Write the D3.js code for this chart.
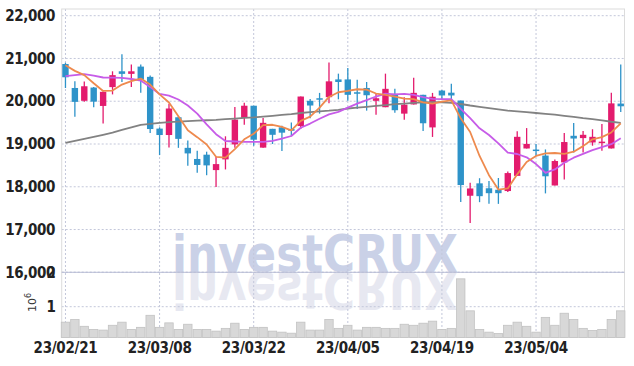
<!DOCTYPE html>
<html lang="en">
  <head>
    <meta charset="UTF-8" />
    <title>Candlestick chart</title>
    <style>
      body {
        margin: 0;
        background: #fff;
      }
      svg {
        display: block;
      }
      .lbl {
        font-family: "Liberation Sans Narrow", "DejaVu Sans Condensed", sans-serif;
        font-weight: bold;
        fill: #222;
      }
    </style>
  </head>
  <body>
    <svg width="634" height="366"></svg>
    <script src="https://d3js.org/d3.v7.min.js"></script>
    <script>
      const dates = [
        "23/02/21", "23/02/22", "23/02/23", "23/02/24", "23/02/27", "23/02/28",
        "23/03/02", "23/03/03", "23/03/06", "23/03/07", "23/03/08", "23/03/09",
        "23/03/10", "23/03/13", "23/03/14", "23/03/15", "23/03/16", "23/03/17",
        "23/03/20", "23/03/21", "23/03/22", "23/03/23", "23/03/24", "23/03/27",
        "23/03/28", "23/03/29", "23/03/30", "23/03/31", "23/04/03", "23/04/04",
        "23/04/05", "23/04/06", "23/04/07", "23/04/10", "23/04/11", "23/04/12",
        "23/04/13", "23/04/14", "23/04/17", "23/04/18", "23/04/19", "23/04/20",
        "23/04/21", "23/04/24", "23/04/25", "23/04/26", "23/04/27", "23/04/28",
        "23/05/02", "23/05/03", "23/05/04", "23/05/08", "23/05/09", "23/05/10",
        "23/05/11", "23/05/12", "23/05/15", "23/05/16", "23/05/17", "23/05/18",
      ];

      const open = [
        20870, 20310, 20010, 20320, 19890, 20330, 20700, 20640, 20810, 20570,
        19360, 19210, 19625, 18910, 18650, 18750, 18390, 18640, 18990, 19610,
        19895, 18915, 19355, 19390, 19350, 19420, 20010, 20070, 20095, 20510,
        20510, 20210, 20310, 20010, 19860, 20172, 19710, 19925, 20150, 19388,
        20250, 20200, 20016, 17790, 18080, 17965, 17930, 17900, 18255, 18895,
        18870, 18730, 18030, 18570, 19192, 19138, 19036, 19045, 18896, 19945,
      ];
      const high = [
        20900, 20470, 20460, 20330, 20230, 20700, 21100, 20860, 20860, 20600,
        19390, 19940, 19650, 19080, 18840, 18820, 18700, 19180, 19865, 19965,
        19895, 19610, 19355, 19425, 19500, 20110, 20055, 20195, 20905, 20645,
        20775, 20505, 20450, 20170, 20645, 20290, 20095, 20550, 20150, 20195,
        20260, 20410, 20016, 18095, 18200, 18135, 18205, 18355, 19300, 19372,
        19000, 18873, 18640, 19255, 19490, 19305, 19345, 19466, 20197, 20857,
      ];
      const low = [
        20310, 19640, 19985, 19860, 19480, 20160, 20450, 20330, 20200, 19260,
        18740, 18920, 18910, 18490, 18330, 18270, 17995, 18405, 18910, 19450,
        18960, 18915, 19000, 18835, 19180, 19350, 19600, 19710, 19950, 20045,
        20010, 19820, 19780, 19685, 19860, 19730, 19565, 19925, 19306, 19165,
        20050, 20050, 17645, 17155, 17640, 17600, 17600, 17880, 18255, 18895,
        18720, 17845, 18030, 18170, 18800, 18800, 18960, 18840, 18896, 19750,
      ];
      const close = [
        20560, 19985, 20350, 19990, 20220, 20610, 20640, 20700, 20500, 19350,
        19210, 19830, 19120, 18780, 18510, 18500, 18530, 18910, 19570, 19895,
        19100, 19495, 19215, 19265, 19310, 20110, 19900, 20045, 20465, 20450,
        20150, 20185, 20140, 20070, 20290, 19790, 19920, 20196, 19485, 20105,
        20135, 20135, 18040, 17960, 17780, 17850, 17850, 18320, 19168, 19002,
        18850, 18245, 18602, 19046, 19128, 19215, 19168, 19055, 19950, 19882,
      ];

      // moving averages
      const maShort = [
        20840, 20710, 20610, 20420, 20240, 20250, 20390, 20470, 20530, 20390,
        20160, 19970, 19650, 19320, 19160, 18990, 18700, 18680, 18880, 19110,
        19240, 19440, 19450, 19400, 19320, 19540, 19640, 19850, 20100, 20210,
        20240, 20280, 20270, 20180, 20150, 20110, 20060, 20050, 19975, 19945,
        19990, 20020, 19600, 19280, 18720, 18270, 17935, 17960, 18290, 18580,
        18720, 18780, 18790, 18770, 18820, 18950, 19110, 19160, 19270, 19480,
      ];
      const maMid = [
        20585, 20610, 20635, 20600, 20555, 20550, 20545, 20520, 20485, 20330,
        20170, 20130, 20040, 19900, 19710, 19460, 19230, 19070, 19058, 19050,
        19050, 19052, 19073, 19128, 19187, 19380, 19478, 19590, 19693, 19750,
        19850, 19945, 20024, 20110, 20180, 20160, 20172, 20150, 20094, 20055,
        20050, 20047, 19820, 19603, 19367, 19210, 19014, 18798, 18766, 18688,
        18530, 18327, 18405, 18562, 18680, 18771, 18857, 18928, 18995, 19132,
      ];
      const maLong = [
        19025, 19075, 19120, 19165, 19215, 19265, 19330, 19390, 19445, 19470,
        19495, 19510, 19525, 19535, 19545, 19555, 19565, 19580, 19595, 19610,
        19622, 19640, 19660, 19680, 19700, 19725, 19745, 19765, 19780, 19800,
        19830, 19850, 19870, 19890, 19910, 19930, 19945, 19960, 19975, 19980,
        19975, 19960, 19935, 19900, 19870, 19840, 19810, 19780, 19765, 19745,
        19725, 19705, 19686, 19660, 19635, 19605, 19580, 19550, 19520, 19495,
      ];

      // volume in millions
      const volume = [
        0.55, 0.63, 0.43, 0.34, 0.32, 0.46, 0.55, 0.34, 0.40, 0.75,
        0.40, 0.53, 0.34, 0.49, 0.34, 0.34, 0.29, 0.37, 0.52, 0.34,
        0.40, 0.40, 0.29, 0.26, 0.23, 0.55, 0.32, 0.32, 0.63, 0.37,
        0.46, 0.32, 0.40, 0.40, 0.37, 0.37, 0.49, 0.46, 0.52, 0.58,
        0.34, 0.37, 1.81, 0.88, 0.34, 0.26, 0.22, 0.46, 0.55, 0.43,
        0.26, 0.69, 0.46, 0.81, 0.63, 0.37, 0.31, 0.34, 0.63, 0.88,
      ];

      const priceTicks = [16000, 17000, 18000, 19000, 20000, 21000, 22000];
      const volTicks = [1, 2];
      const dateTicks = ["23/02/21", "23/03/08", "23/03/22", "23/04/05", "23/04/19", "23/05/04"];

      const svg = d3.select("svg");
      const plotL = 61.7,
        plotR = 624.5,
        plotT = 9,
        plotMid = 272.3,
        plotB = 337.5;

      const x = d3.scalePoint().domain(dates).range([plotL, plotR]).padding(0.4);
      const y = d3.scaleLinear().domain([16000, 22000]).range([plotMid, 15.7]);
      const yv = d3.scaleLinear().domain([1, 2]).range([306.7, plotMid]);

      const up = "#e31b6d",
        down = "#2e93c9",
        grid = "#c3c7da";

      // watermark with reflection
      const wm = svg.append("g")
        .style("font-family", "DejaVu Sans, sans-serif")
        .style("font-weight", "bold")
        .style("font-size", "52px");
      wm.append("text")
        .attr("x", 172)
        .attr("y", plotMid)
        .attr("textLength", 286)
        .attr("lengthAdjust", "spacingAndGlyphs")
        .attr("fill", "#cad1e7")
        .text("investCRUX");
      wm.append("text")
        .attr("x", 172)
        .attr("y", -plotMid)
        .attr("transform", "scale(1,-1)")
        .attr("textLength", 286)
        .attr("lengthAdjust", "spacingAndGlyphs")
        .attr("fill", "#e7e8f1")
        .text("investCRUX");

      // grid
      svg.append("g")
        .selectAll("line")
        .data(priceTicks)
        .join("line")
        .attr("x1", plotL)
        .attr("x2", plotR)
        .attr("y1", (d) => y(d))
        .attr("y2", (d) => y(d))
        .attr("stroke", grid)
        .attr("stroke-dasharray", "2,2");

      svg.append("g")
        .selectAll("line")
        .data(volTicks)
        .join("line")
        .attr("x1", plotL)
        .attr("x2", plotR)
        .attr("y1", (d) => yv(d))
        .attr("y2", (d) => yv(d))
        .attr("stroke", grid)
        .attr("stroke-dasharray", "2,2");

      svg.append("g")
        .selectAll("line")
        .data(dateTicks)
        .join("line")
        .attr("x1", (d) => x(d))
        .attr("x2", (d) => x(d))
        .attr("y1", plotT)
        .attr("y2", plotB)
        .attr("stroke", grid)
        .attr("stroke-dasharray", "2,2");

      // frame
      svg.append("rect")
        .attr("x", plotL)
        .attr("y", plotT)
        .attr("width", plotR - plotL)
        .attr("height", plotB - plotT)
        .attr("fill", "none")
        .attr("stroke", "#dcdcdc");
      svg.append("line")
        .attr("x1", plotL)
        .attr("x2", plotR)
        .attr("y1", plotMid)
        .attr("y2", plotMid)
        .attr("stroke", "#b9bfd6");

      // volume bars
      const bw = x.step() - 1;
      svg.append("g")
        .selectAll("rect")
        .data(volume)
        .join("rect")
        .attr("x", (d, i) => x(dates[i]) - bw / 2)
        .attr("y", (d) => yv(d))
        .attr("width", bw)
        .attr("height", (d) => plotB - yv(d))
        .attr("fill", "#d8d8d8")
        .attr("stroke", "#c2c2c2")
        .attr("stroke-width", 0.8);

      // candles
      const cw = 6.4;
      const candles = svg.append("g")
        .selectAll("g")
        .data(dates)
        .join("g")
        .attr("fill", (d, i) => (close[i] >= open[i] ? up : down))
        .attr("stroke", (d, i) => (close[i] >= open[i] ? up : down));

      candles.append("line")
        .attr("x1", (d) => x(d))
        .attr("x2", (d) => x(d))
        .attr("y1", (d, i) => y(high[i]))
        .attr("y2", (d, i) => y(low[i]))
        .attr("stroke-width", 1.3);

      candles.append("rect")
        .attr("x", (d) => x(d) - cw / 2)
        .attr("y", (d, i) => y(Math.max(open[i], close[i])))
        .attr("width", cw)
        .attr("height", (d, i) => Math.max(1.5, Math.abs(y(open[i]) - y(close[i]))))
        .attr("stroke", "none");

      // moving averages
      const line = d3.line()
        .x((d, i) => x(dates[i]))
        .y((d) => y(d));

      [
        [maLong, "#828282"],
        [maMid, "#c75ce8"],
        [maShort, "#ee8a4e"],
      ].forEach(([data, col]) => {
        svg.append("path")
          .datum(data)
          .attr("d", line)
          .attr("fill", "none")
          .attr("stroke", col)
          .attr("stroke-width", 1.8)
          .attr("stroke-linejoin", "round");
      });

      // labels
      svg.append("g")
        .selectAll("text")
        .data(priceTicks)
        .join("text")
        .attr("class", "lbl")
        .attr("x", 55)
        .attr("y", (d) => y(d))
        .attr("dy", "0.35em")
        .attr("text-anchor", "end")
        .style("font-size", "15px")
        .style("letter-spacing", "-0.4px")
        .text((d) => d3.format(",")(d));

      svg.append("g")
        .selectAll("text")
        .data(volTicks)
        .join("text")
        .attr("class", "lbl")
        .attr("x", 56)
        .attr("y", (d) => yv(d))
        .attr("dy", "0.35em")
        .attr("text-anchor", "end")
        .style("font-size", "15px")
        .text((d) => d);

      svg.append("g")
        .selectAll("text")
        .data(dateTicks)
        .join("text")
        .attr("class", "lbl")
        .attr("x", (d) => x(d))
        .attr("y", 353)
        .attr("text-anchor", "middle")
        .style("font-size", "15px")
        .style("letter-spacing", "-0.3px")
        .text((d) => d);

      const unit = svg.append("text")
        .attr("transform", "translate(36,312) rotate(-90)")
        .style("font-family", "DejaVu Sans, sans-serif")
        .style("font-size", "11px")
        .attr("fill", "#333");
      unit.append("tspan").text("10");
      unit.append("tspan").attr("dy", -5).style("font-size", "8px").text("6");
    </script>
  </body>
</html>
